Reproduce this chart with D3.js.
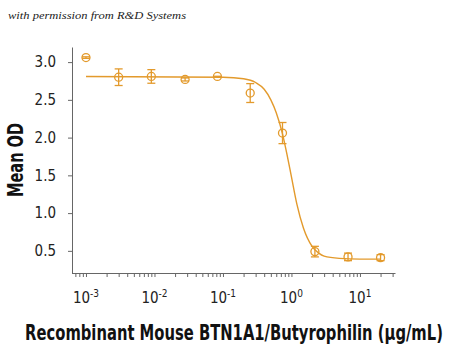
<!DOCTYPE html>
<html>
<head>
<meta charset="utf-8">
<script src="https://cdn.jsdelivr.net/npm/d3@7"></script>
<style>
  body { margin: 0; background: #fff; }
  .tick text { font-family: "Liberation Sans Narrow", "DejaVu Sans Condensed", sans-serif; }
  .lab { font-family: "Liberation Sans Narrow", "DejaVu Sans Condensed", sans-serif; font-weight: bold; fill: #111; }
</style>
</head>
<body>
<script>
// concentrations (ug/mL), mean OD and error
const conc = [0.001, 0.003, 0.009, 0.028, 0.083, 0.25, 0.74, 2.2, 6.7, 20];
const meanOD = [3.06, 2.80, 2.81, 2.77, 2.81, 2.59, 2.06, 0.49, 0.42, 0.41];
const errOD = [0.01, 0.11, 0.09, 0.02, 0.0, 0.125, 0.14, 0.07, 0.05, 0.04];

// fitted curve
const curveX = [0.001, 0.1, 0.2, 0.3, 0.4, 0.5, 0.6, 0.74, 0.85, 1.0, 1.2, 1.5, 2.0, 2.5, 3.0, 5, 10, 20];
const curveY = [2.81, 2.80, 2.78, 2.73, 2.64, 2.50, 2.33, 2.05, 1.80, 1.48, 1.12, 0.80, 0.56, 0.47, 0.43, 0.40, 0.39, 0.39];

const yTicks = [0.5, 1.0, 1.5, 2.0, 2.5, 3.0];
const xMajor = [-3, -2, -1, 0, 1];

const width = 450, height = 351;
const margin = { top: 47, right: 55, bottom: 78, left: 72 };
const orange = "#E39A2C";

const svg = d3.select("body").append("svg")
    .attr("width", width)
    .attr("height", height);

svg.append("rect").attr("width", width).attr("height", height).attr("fill", "#fff");

const x = d3.scaleLog()
    .domain([0.000625, 32.5])
    .range([margin.left, width - margin.right]);
const y = d3.scaleLinear()
    .domain([0.2, 3.2])
    .range([height - margin.bottom + 0.5, margin.top]);

// minor + major tick positions for the log axis
let xTickVals = [];
for (let e = -4; e <= 1; e++) {
    for (let m = 1; m <= 9; m++) {
        const v = m * Math.pow(10, e);
        if (v >= x.domain()[0] && v <= x.domain()[1]) xTickVals.push(v);
    }
}

const xAxis = svg.append("g")
    .attr("transform", `translate(0,${height - margin.bottom})`)
    .call(d3.axisBottom(x).tickValues(xTickVals).tickFormat("").tickSize(4).tickSizeOuter(0));
xAxis.selectAll("path, line").attr("stroke", "#666");

// major labels with superscripts
xMajor.forEach(e => {
    const t = svg.append("text")
        .attr("class", "tick")
        .attr("x", x(Math.pow(10, e)))
        .attr("y", height - margin.bottom + 30)
        .attr("text-anchor", "middle")
        .attr("font-family", "'Liberation Sans Narrow', 'DejaVu Sans Condensed', sans-serif")
        .attr("font-size", 15)
        .attr("fill", "#222");
    t.append("tspan").text("10");
    t.append("tspan").attr("dy", -6).attr("font-size", 10).text(e);
});

const yAxis = svg.append("g")
    .attr("transform", `translate(${margin.left},0)`)
    .call(d3.axisLeft(y).tickValues(yTicks).tickFormat(d3.format(".1f")).tickSize(4).tickSizeOuter(0).tickPadding(12));
yAxis.selectAll("path, line").attr("stroke", "#666");
yAxis.selectAll("text").attr("font-size", 15).attr("fill", "#222");

// fitted line
const line = d3.line()
    .x(d => x(d[0]))
    .y(d => y(d[1]))
    .curve(d3.curveMonotoneX);
svg.append("path")
    .datum(curveX.map((c, i) => [c, curveY[i]]))
    .attr("fill", "none")
    .attr("stroke", orange)
    .attr("stroke-width", 1.4)
    .attr("d", line);

// error bars and points
const pts = svg.append("g").attr("stroke", orange).attr("stroke-width", 1.3).attr("fill", "none");
conc.forEach((c, i) => {
    const cx = x(c), lo = y(meanOD[i] - errOD[i]), hi = y(meanOD[i] + errOD[i]);
    pts.append("line").attr("x1", cx).attr("x2", cx).attr("y1", lo).attr("y2", hi);
    pts.append("line").attr("x1", cx - 4).attr("x2", cx + 4).attr("y1", lo).attr("y2", lo);
    pts.append("line").attr("x1", cx - 4).attr("x2", cx + 4).attr("y1", hi).attr("y2", hi);
    pts.append("circle").attr("cx", cx).attr("cy", y(meanOD[i])).attr("r", 4);
});

// x title: size it so its natural width is ~418px, then stretch it upward
const titleG = svg.append("g");
const title = titleG.append("text")
    .attr("class", "lab")
    .attr("text-anchor", "middle")
    .attr("font-size", 20)
    .text("Recombinant Mouse BTN1A1/Butyrophilin (\u03bcg/mL)");
const natW = title.node().getComputedTextLength();
const fs = 20 * 418 / natW;
title.attr("font-size", fs);
titleG.attr("transform", `translate(234,340) scale(1,${(22 / fs).toFixed(3)})`);

svg.append("text")
    .attr("class", "lab")
    .attr("transform", "translate(23,160) rotate(-90)")
    .attr("text-anchor", "middle")
    .attr("font-size", 21)
    .attr("textLength", 74)
    .attr("lengthAdjust", "spacingAndGlyphs")
    .text("Mean OD");

// credit line
svg.append("text")
    .attr("x", 8)
    .attr("y", 19)
    .attr("font-family", "'Liberation Serif', 'DejaVu Serif', serif")
    .attr("font-style", "italic")
    .attr("font-size", 11)
    .attr("fill", "#222")
    .attr("textLength", 178)
    .attr("lengthAdjust", "spacingAndGlyphs")
    .text("with permission from R&D Systems");
</script>
</body>
</html>
